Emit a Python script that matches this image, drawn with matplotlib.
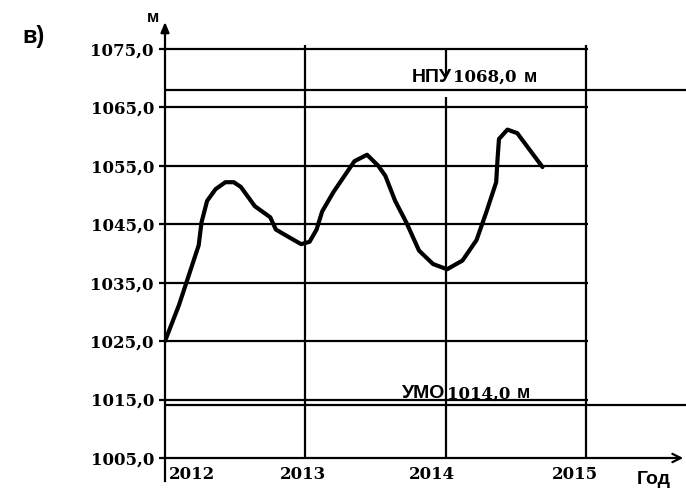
"""Water level of the reservoir, 2012-2015, with НПУ and УМО marks."""
import matplotlib

matplotlib.use("Agg")
import matplotlib.pyplot as plt

# observed water level, m
years_obs = [
    2012.00, 2012.10, 2012.24, 2012.26, 2012.30, 2012.36, 2012.43, 2012.49,
    2012.54, 2012.64, 2012.75, 2012.79, 2012.89, 2012.97, 2013.03, 2013.08,
    2013.12, 2013.20, 2013.35, 2013.44, 2013.52, 2013.57, 2013.64, 2013.72,
    2013.81, 2013.91, 2014.01, 2014.12, 2014.22, 2014.29, 2014.36, 2014.37,
    2014.38, 2014.44, 2014.51, 2014.60, 2014.69,
]
level_obs = [
    1025.0, 1031.2, 1041.4, 1045.3, 1049.0, 1051.0, 1052.2, 1052.2,
    1051.4, 1048.1, 1046.2, 1044.1, 1042.7, 1041.6, 1042.0, 1044.1,
    1047.2, 1050.5, 1055.8, 1056.9, 1055.0, 1053.3, 1049.0, 1045.3,
    1040.5, 1038.2, 1037.3, 1038.8, 1042.3, 1047.1, 1052.2, 1056.3,
    1059.6, 1061.2, 1060.6, 1057.7, 1054.8,
]

years = [2012, 2013, 2014, 2015]
levels = [1075.0, 1065.0, 1055.0, 1045.0, 1035.0, 1025.0, 1015.0, 1005.0]
npu = 1068.0
umo = 1014.0


def fmt(v):
    return f"{v:.1f}".replace(".", ",")


SERIF = dict(family="DejaVu Serif", weight="bold")
SANS = dict(family="Liberation Sans", weight="bold")
LW = 1.6

fig = plt.figure(figsize=(6.86, 4.91), dpi=100)
ax = fig.add_axes([165 / 686, 33 / 491, 521 / 686, 436 / 491])
xmax = 2015 + 100 / 140.33
ax.set_xlim(2012, xmax)
ax.set_ylim(1005, 1079.62)
for s in ax.spines.values():
    s.set_visible(False)

# grid
ax.hlines(levels[:-1], years[0], years[-1] + 0.015, color="black", lw=LW)
ax.hlines([npu, umo], years[0], xmax, color="black", lw=LW)
ax.vlines([2013, 2015], levels[-1], levels[0] + 0.7, color="black", lw=LW)
ax.vlines(2014, levels[-1], 1066.8, color="black", lw=LW)
ax.vlines(2014, 1070.3, levels[0], color="black", lw=LW)

# axes with arrows
ax.annotate("", xy=(2012, 1079.62), xytext=(2012, 1005),
            arrowprops=dict(arrowstyle="-|>,head_length=0.6,head_width=0.25",
                            color="black", lw=LW, shrinkA=0, shrinkB=0),
            annotation_clip=False)
ax.annotate("", xy=(xmax - 0.02, 1005), xytext=(2012, 1005),
            arrowprops=dict(arrowstyle="->,head_length=0.6,head_width=0.3",
                            color="black", lw=LW, shrinkA=0, shrinkB=0),
            annotation_clip=False)
ax.plot([2012, 2012], [1005, 1001], color="black", lw=LW, clip_on=False)

# level curve
ax.plot(years_obs, level_obs, color="black", lw=3.0,
        solid_capstyle="round", solid_joinstyle="round", zorder=3)

# y tick labels
ax.set_yticks(levels)
ax.set_yticklabels([fmt(v) for v in levels], fontsize=12, **SERIF)
ax.tick_params(axis="y", length=4, width=LW, pad=4)
ax.set_xticks([])

# x labels
year_dx = [3, -2, -10, -8]
year_ha = ["left", "center", "center", "center"]
for yr, dx, ha in zip(years, year_dx, year_ha):
    ax.annotate(str(yr), xy=(yr, 1005), xytext=(dx, -6),
                textcoords="offset points", ha=ha, va="top",
                fontsize=12, annotation_clip=False, **SERIF)
ax.annotate("Год", xy=(xmax, 1005), xytext=(-23, -9),
            textcoords="offset points", ha="center", va="top",
            fontsize=14, annotation_clip=False, **SANS)
ax.annotate("м", xy=(2012, 1079.62), xytext=(-9, -2),
            textcoords="offset points", ha="center", va="bottom",
            fontsize=12, annotation_clip=False, **SANS)
fig.text(22 / 686, 1 - 37 / 491, "в)", ha="left", va="center",
         fontsize=17, **SANS)


def level_label(name, value, x, dy):
    # name, value and unit share one baseline just above the line
    t1 = ax.annotate(name, xy=(x, value), xytext=(0, dy),
                     textcoords="offset points", va="baseline",
                     fontsize=14, **SANS)
    t2 = ax.annotate(fmt(value), xy=(1, value), xycoords=(t1, "data"),
                     xytext=(1, dy), textcoords="offset points",
                     va="baseline", fontsize=12, **SERIF)
    ax.annotate("м", xy=(1, value), xycoords=(t2, "data"),
                xytext=(5, dy), textcoords="offset points",
                va="baseline", fontsize=13, **SANS)


level_label("НПУ", npu, 2013.76, 6.0)
level_label("УМО", umo, 2013.69, 5.0)

fig.savefig("out.png", dpi=100)
